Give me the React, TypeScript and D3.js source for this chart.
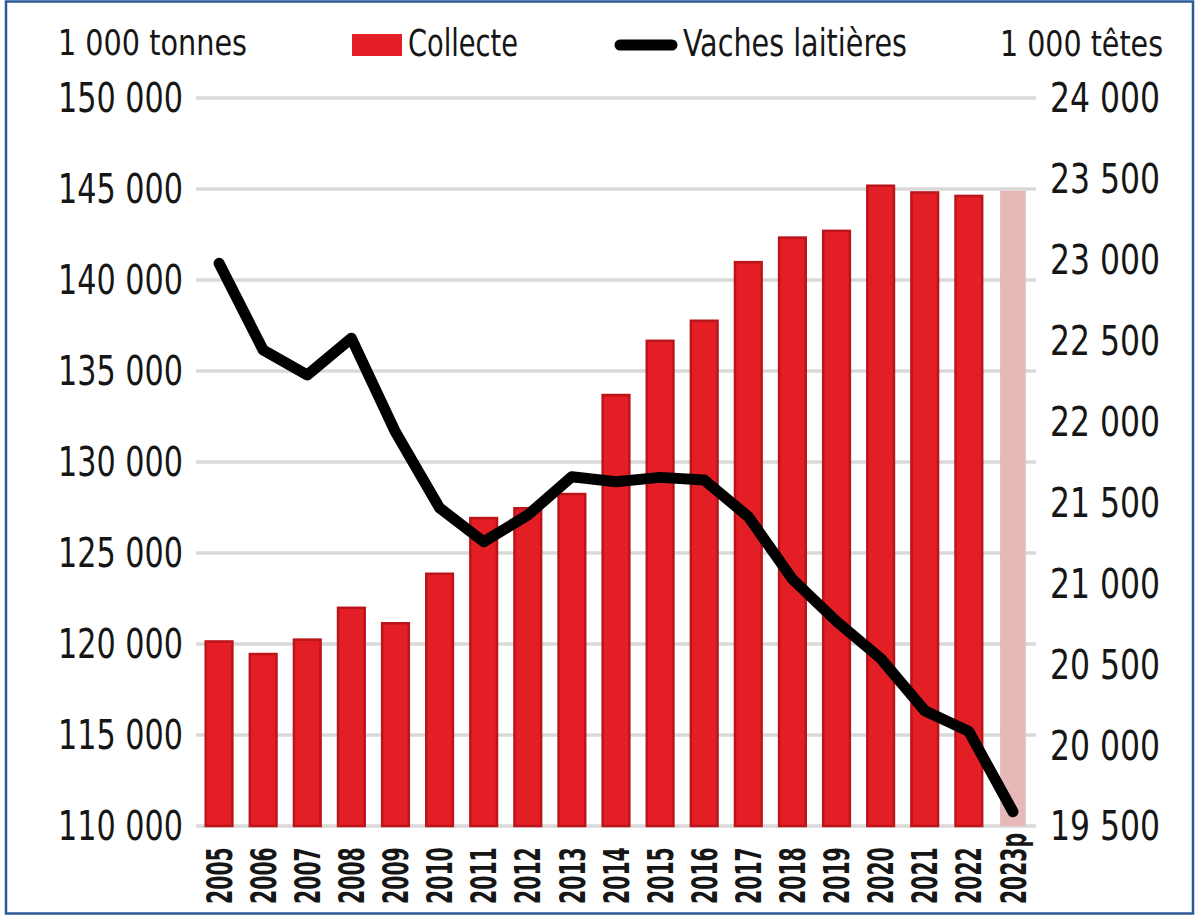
import * as d3 from 'd3'

// milk collection (1 000 t) and dairy cow herd (1 000 heads)
const years = ['2005', '2006', '2007', '2008', '2009', '2010', '2011', '2012', '2013', '2014',
  '2015', '2016', '2017', '2018', '2019', '2020', '2021', '2022', '2023p']
const collecte = [120140, 119450, 120240, 121990, 121140, 123860, 126920, 127460, 128240, 133680,
  136660, 137760, 140980, 142330, 142700, 145180, 144810, 144620, 144900]
const vaches = [22978, 22442, 22288, 22515, 21935, 21466, 21257, 21422, 21659, 21628,
  21655, 21639, 21412, 21026, 20765, 20536, 20213, 20085, 19588]
const leftTicks = [110000, 115000, 120000, 125000, 130000, 135000, 140000, 145000, 150000]
const rightTicks = [19500, 20000, 20500, 21000, 21500, 22000, 22500, 23000, 23500, 24000]
const provisional = '2023p'

const W = 1203
const H = 915
const FONT = "'Liberation Sans Narrow','DejaVu Sans Condensed','Roboto',sans-serif"
const TXT = '#161616'
const SQ = 'spacingAndGlyphs' // squeeze text to the narrow widths of the original

const fmt = (v: number) => d3.format(',')(v).replace(/,/g, ' ')

export default function App() {
  const x = d3.scaleBand<string>().domain(years).range([197, 1035]).paddingInner(0.35).paddingOuter(0.175)
  const yL = d3.scaleLinear().domain([110000, 150000]).range([826, 98])
  const yR = d3.scaleLinear().domain([19500, 24000]).range([826, 98])
  const bw = x.bandwidth()
  const cx = (d: string) => (x(d) ?? 0) + bw / 2

  const line = d3.line<number>()
    .x((_, i) => cx(years[i]))
    .y((v) => yR(v))

  return (
    <svg width={W} height={H} style={{ display: 'block', background: '#fff' }} fontFamily={FONT}>
      <style>{'body{margin:0}'}</style>
      <rect x={6} y={1.5} width={1187} height={912} fill="#fff" stroke="#2d5a96" strokeWidth={2.5} />

      {/* header */}
      <text x={58} y={55} fontSize={36} fill={TXT} textLength={189} lengthAdjust={SQ}>1 000 tonnes</text>
      <rect x={352} y={34} width={50} height={22} fill="#e41e25" />
      <text x={408} y={56} fontSize={37} fill={TXT} textLength={110} lengthAdjust={SQ}>Collecte</text>
      <line x1={620} x2={672} y1={45} y2={45} stroke="#000" strokeWidth={11} strokeLinecap="round" />
      <text x={683} y={56} fontSize={37} fill={TXT} textLength={224} lengthAdjust={SQ}>Vaches laitières</text>
      <text x={1000} y={56} fontSize={36} fill={TXT} textLength={163} lengthAdjust={SQ}>1 000 têtes</text>

      {/* grid + left axis */}
      {leftTicks.map((t) => (
        <g key={t}>
          <line x1={196} x2={1036} y1={yL(t)} y2={yL(t)} stroke="#d9d9d9" strokeWidth={3.5} />
          <text x={58} y={yL(t)} dy="0.36em" fontSize={40} fill={TXT}
            textLength={125} lengthAdjust={SQ}>{fmt(t)}</text>
        </g>
      ))}

      {/* right axis */}
      {rightTicks.map((t) => (
        <text key={t} x={1050} y={yR(t)} dy="0.36em" fontSize={40} fill={TXT}
          textLength={110} lengthAdjust={SQ}>{fmt(t)}</text>
      ))}

      {/* bars */}
      {years.map((d, i) => {
        const p = d === provisional
        const top = yL(collecte[i])
        return (
          <rect key={d}
            x={(x(d) ?? 0) + (p ? 1.5 : 1)} y={top}
            width={p ? bw - 3 : bw - 2} height={yL(110000) - top}
            fill={p ? '#e6b8b8' : '#e41e25'}
            stroke={p ? 'none' : '#bb151b'} strokeWidth={2.5} />
        )
      })}

      {/* cows line */}
      <path d={line(vaches) ?? ''} fill="none" stroke="#000" strokeWidth={11}
        strokeLinejoin="round" strokeLinecap="round" />

      {/* year labels, bottom-aligned and reading upwards */}
      {years.map((d) => (
        <text key={d} transform={`translate(${cx(d)},904) rotate(-90)`} dy="0.36em"
          fontSize={35} fontWeight="bold" fill={TXT}
          textLength={d.length * 14.2} lengthAdjust={SQ}>{d}</text>
      ))}
    </svg>
  )
}
